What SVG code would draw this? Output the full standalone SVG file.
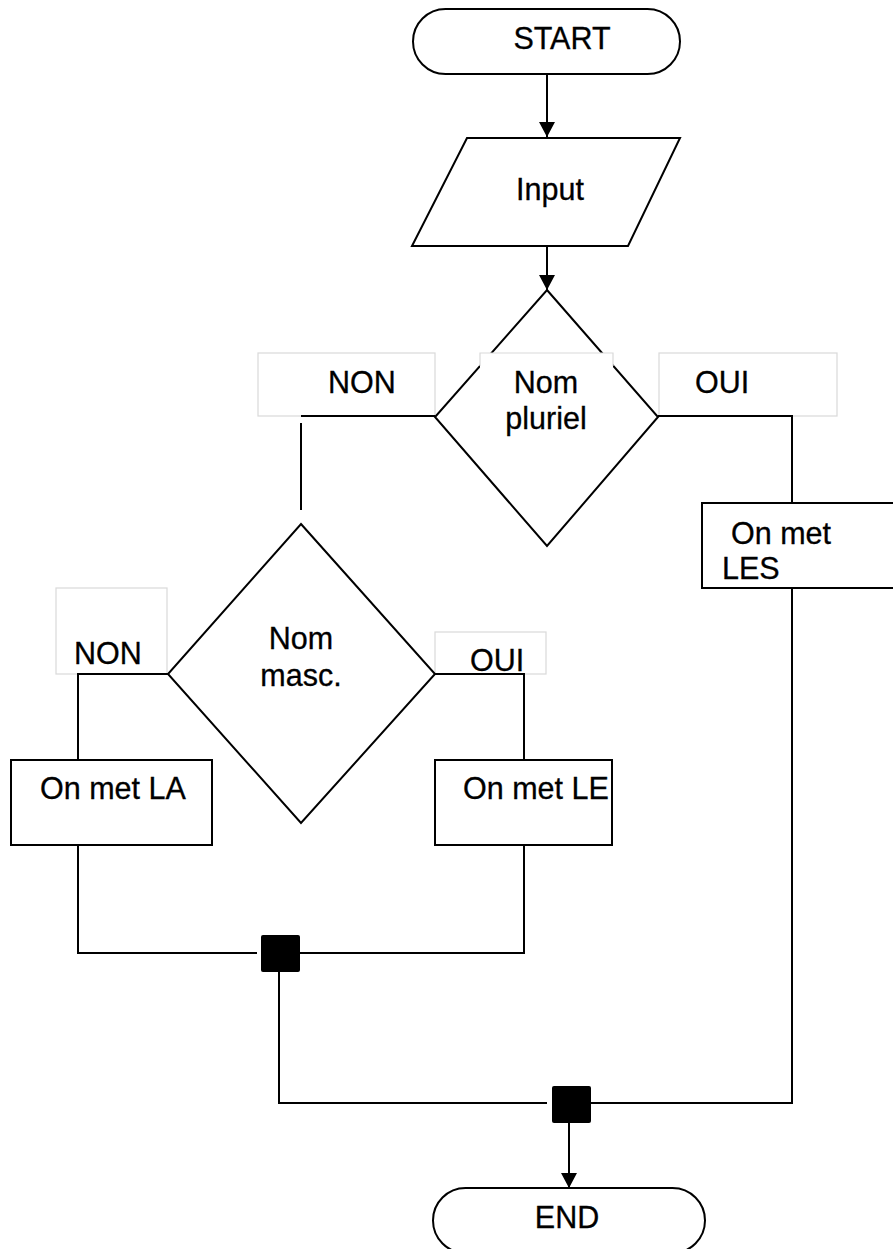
<svg xmlns="http://www.w3.org/2000/svg" width="893" height="1249" viewBox="0 0 893 1249">
<defs>
<marker id="arr" markerUnits="userSpaceOnUse" markerWidth="16" markerHeight="16" viewBox="0 0 16 16" refX="15" refY="8" orient="auto">
<path d="M0,0 L15,8 L0,16 Z" fill="#000"/>
</marker>
<style>
.shape{fill:#fff;stroke:#000;stroke-width:2}
.lbl{fill:#fff;stroke:#d9d9d9;stroke-width:1.2}
.ln{fill:none;stroke:#000;stroke-width:2}
.jn{fill:#000;stroke:none}
text{font-family:"Liberation Sans",Arial,sans-serif;font-size:30.5px;fill:#000;stroke:#000;stroke-width:0.3}
.c{text-anchor:middle}
</style>
</defs>
<rect width="893" height="1249" fill="#fff"/>

<g id="connectors">
<line class="ln" x1="547" y1="74" x2="547" y2="137" marker-end="url(#arr)"/>
<line class="ln" x1="547" y1="246" x2="547" y2="290" marker-end="url(#arr)"/>
<line class="ln" x1="569" y1="1123" x2="569" y2="1188" marker-end="url(#arr)"/>
</g>

<g id="start">
<rect class="shape" x="413" y="9" width="267" height="65" rx="32.5"/>
<text class="c" x="562" y="49">START</text>
</g>

<g id="input">
<polygon class="shape" points="467,138 680,138 628,246 412,246"/>
<text class="c" x="550" y="200">Input</text>
</g>

<g id="label-non-1">
<rect class="lbl" x="258" y="353" width="177" height="63"/>
<text x="328" y="393">NON</text>
</g>
<g id="label-oui-1">
<rect class="lbl" x="659" y="353" width="178" height="63"/>
<text x="695" y="393">OUI</text>
</g>

<g id="decision-pluriel">
<polygon class="shape" points="547,290 658,417 547,546 435,417"/>
<rect x="480" y="353" width="133" height="80" fill="#fff"/>
<polyline fill="none" stroke="#d9d9d9" stroke-width="1.2" points="480,366 480,353 613,353 613,366"/>
<text class="c" x="546" y="393">Nom</text>
<text class="c" x="546" y="429">pluriel</text>
</g>

<g id="label-non-2">
<rect class="lbl" x="56" y="588" width="111" height="86"/>
<text x="74" y="664">NON</text>
</g>
<g id="label-oui-2">
<rect class="lbl" x="435" y="632" width="111" height="42"/>
<text x="470" y="671">OUI</text>
</g>

<g id="decision-masc">
<polygon class="shape" points="301,524 435,674 301,823 168,674"/>
<text class="c" x="301" y="649">Nom</text>
<text class="c" x="301" y="686">masc.</text>
</g>

<g id="box-la">
<rect class="shape" x="11" y="760" width="201" height="85"/>
<text x="40" y="799">On met LA</text>
</g>
<g id="box-le">
<rect class="shape" x="435" y="760" width="177" height="85"/>
<text x="463" y="799">On met LE</text>
</g>
<g id="box-les">
<rect class="shape" x="702" y="503" width="200" height="85"/>
<text x="731" y="544">On met</text>
<text x="722" y="579">LES</text>
</g>

<g id="connectors-lines">
<polyline class="ln" points="435,416 301,416"/>
<line class="ln" x1="301" y1="423" x2="301" y2="510"/>
<polyline class="ln" points="658,416 792,416 792,503"/>
<polyline class="ln" points="168,674 78,674 78,760"/>
<polyline class="ln" points="435,674 524,674 524,760"/>
<polyline class="ln" points="78,845 78,953 257,953"/>
<polyline class="ln" points="300,953 524,953 524,845"/>
<polyline class="ln" points="279,972 279,1103 547,1103"/>
<polyline class="ln" points="591,1103 792,1103 792,588"/>
</g>

<g id="join-1"><rect class="jn" x="261" y="935" width="39" height="37" rx="2"/></g>
<g id="join-2"><rect class="jn" x="552" y="1086" width="39" height="37" rx="2"/></g>

<g id="end">
<rect class="shape" x="433" y="1188" width="272" height="65" rx="32.5"/>
<text class="c" x="567" y="1228">END</text>
</g>
</svg>
